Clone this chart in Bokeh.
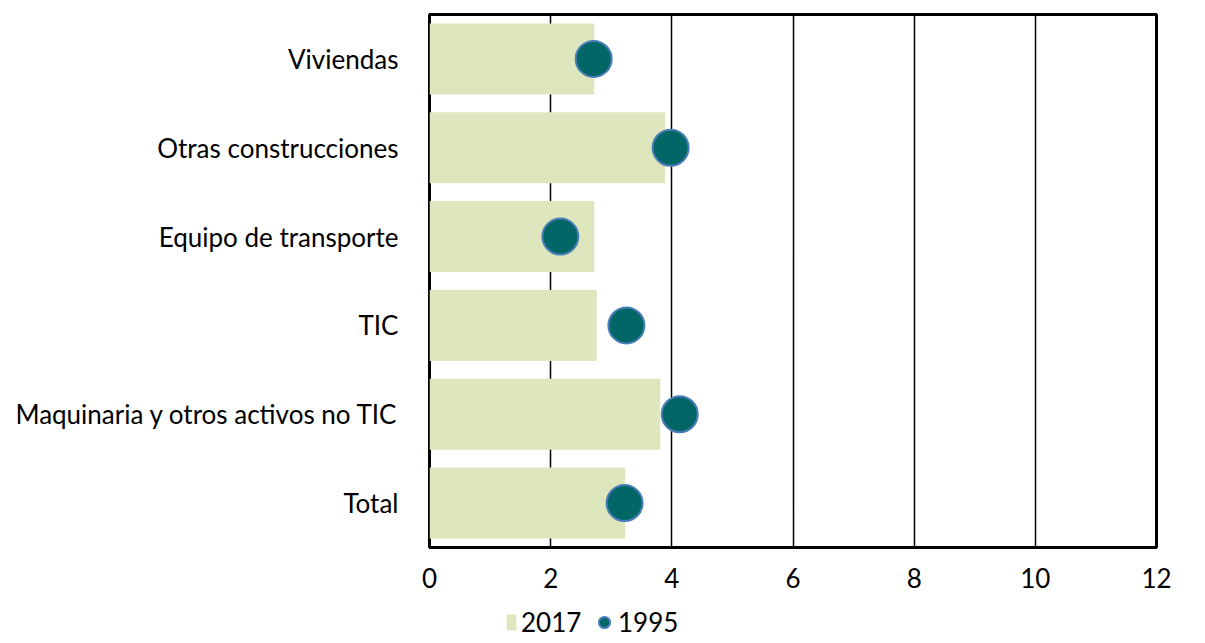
from bokeh.plotting import figure
from bokeh.layouts import column
from bokeh.models import FactorRange, Range1d, FixedTicker, Legend, LegendItem, ColumnDataSource
from bokeh.embed import file_html
from bokeh.resources import INLINE

categories = ["Viviendas", "Otras construcciones", "Equipo de transporte", "TIC",
              "Maquinaria y otros activos no TIC", "Total"]
values_2017 = [2.72, 3.89, 2.72, 2.76, 3.81, 3.23]
values_1995 = [2.71, 3.98, 2.16, 3.25, 4.13, 3.22]
x_ticks = [0, 2, 4, 6, 8, 10, 12]
series_names = ["2017", "1995"]

FONT = "Lato"
BAR_COLOR = "#DDE6BD"
DOT_FILL = "#036666"
DOT_LINE = "#4A7EBB"

src = ColumnDataSource(dict(cat=categories, v17=values_2017, v95=values_1995))

p = figure(frame_width=727, frame_height=533, output_backend="svg", toolbar_location=None,
           y_range=FactorRange(factors=list(reversed(categories)), range_padding=0),
           x_range=Range1d(0, 12),
           min_border_left=429, min_border_right=44, min_border_top=14, min_border_bottom=56)

p.hbar(y="cat", right="v17", left=0, height=0.8, source=src,
       fill_color=BAR_COLOR, line_color=None)
p.scatter(x="v95", y="cat", size=36, source=src, marker="circle",
          fill_color=DOT_FILL, line_color=DOT_LINE, line_width=2)

p.outline_line_color = "black"
p.outline_line_width = 3
p.background_fill_color = "white"
p.border_fill_color = "white"

p.xgrid.ticker = FixedTicker(ticks=x_ticks)
p.xgrid.grid_line_color = "black"
p.xgrid.grid_line_width = 1.5
p.ygrid.grid_line_color = None

p.xaxis.ticker = FixedTicker(ticks=x_ticks)
p.xaxis.axis_line_color = None
p.xaxis.major_tick_line_color = None
p.xaxis.minor_tick_line_color = None
p.xaxis.major_tick_out = 0
p.xaxis.major_tick_in = 0
p.xaxis.minor_tick_out = 0
p.xaxis.major_label_text_font = FONT
p.xaxis.major_label_text_font_size = "26px"
p.xaxis.major_label_text_color = "black"
p.xaxis.major_label_standoff = 20

p.yaxis.axis_line_color = None
p.yaxis.major_tick_line_color = None
p.yaxis.minor_tick_line_color = None
p.yaxis.major_label_text_font = FONT
p.yaxis.major_label_text_font_size = "26px"
p.yaxis.major_label_text_color = "black"
p.yaxis.major_label_standoff = 25

# legend strip below the chart (its frame is aligned with the chart's frame by the column layout)
leg = figure(width=1200, height=37, output_backend="svg", toolbar_location=None,
             x_range=Range1d(0, 12), y_range=Range1d(0, 1),
             min_border=0, x_axis_location=None, y_axis_location=None)
leg.outline_line_color = None
leg.grid.visible = False
leg.background_fill_color = "white"
leg.border_fill_color = "white"
# legend proxies: same data, drawn below the strip's visible y range
d17 = leg.hbar(y=-10, right="v17", left=0, height=0.8, source=src,
               fill_color=BAR_COLOR, line_color=None)
d95 = leg.scatter(x="v95", y=-10, source=src, marker="circle", size=36,
                  fill_color=DOT_FILL, line_color=DOT_LINE, line_width=2)

common = dict(orientation="horizontal", label_text_font=FONT, label_text_font_size="26px",
              label_text_color="black", padding=0, margin=0, border_line_color=None,
              background_fill_alpha=0)

legend_a = Legend(items=[LegendItem(label=series_names[0], renderers=[d17])],
                  location=(76, 2), glyph_width=12, glyph_height=20, label_standoff=4, **common)
legend_b = Legend(items=[LegendItem(label=series_names[1], renderers=[d95])],
                  location=(161, 2), glyph_width=28, glyph_height=28, label_standoff=0, **common)
leg.add_layout(legend_a, "center")
leg.add_layout(legend_b, "center")

layout = column(p, leg, spacing=0)
open("out.html", "w").write(file_html(layout, INLINE))
